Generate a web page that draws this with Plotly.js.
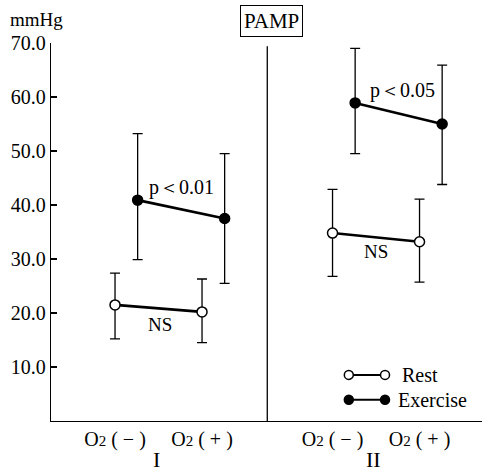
<!DOCTYPE html>
<html><head><meta charset="utf-8">
<script src="https://cdn.plot.ly/plotly-3.0.1.min.js"></script>
<style>body{margin:0;background:#fff}#chart{width:482px;height:471px}</style>
</head><body><div id="chart"></div>
<script>
// Categories (x positions on a category scale) and labels
const positions = [0, 1, 2.5, 3.5];
const tickLabels = ['O<span style="font-size:15px">2</span> ( − )', 'O<span style="font-size:15px">2</span> ( + )',
                    'O<span style="font-size:15px">2</span> ( − )', 'O<span style="font-size:15px">2</span> ( + )'];
const groupLabels = ['I', 'II'];
const groupCenters = [0.48, 2.97];
const divider = 1.75;
const exerciseOffset = 0.26;

// Series values (mmHg)
const restMean  = [21.5, 20.2, 34.8, 33.2];
const restUpper = [27.4, 26.3, 42.9, 41.1];
const restLower = [15.2, 14.5, 26.8, 25.7];
const exMean  = [40.9, 37.5, 58.9, 55.0];
const exUpper = [53.2, 49.5, 69.0, 65.9];
const exLower = [29.9, 25.5, 49.5, 43.8];

const yTicks = [10, 20, 30, 40, 50, 60, 70];
const sigLabels = ['p＜0.01', 'p＜0.05'];
const restLabels = ['NS', 'NS'];

const FONT = 'Liberation Serif, Times New Roman, serif';
const traces = [];
function addSeries(mean, upper, lower, offset, filled) {
  for (let g = 0; g < 2; g++) {
    const idx = [2*g, 2*g+1];
    traces.push({
      type: 'scatter', mode: 'lines+markers',
      x: idx.map(i => positions[i] + offset),
      y: idx.map(i => mean[i]),
      line: {color: '#000', width: 2.6},
      marker: {size: 10, color: filled ? '#000' : '#fff', line: {color: '#000', width: 1.5}},
      error_y: {type: 'data', symmetric: false,
        array: idx.map(i => upper[i] - mean[i]),
        arrayminus: idx.map(i => mean[i] - lower[i]),
        color: '#000', thickness: 1.3, width: 5},
      hoverinfo: 'skip', showlegend: false, cliponaxis: false
    });
  }
}
addSeries(restMean, restUpper, restLower, 0, false);
addSeries(exMean, exUpper, exLower, exerciseOffset, true);

const annotations = [
  {text: 'mmHg', xref: 'paper', yref: 'paper', x: -0.1, y: 1.063, xanchor: 'left', yanchor: 'middle', showarrow: false, font: {family: FONT, size: 19, color: '#000'}},
  {text: 'PAMP', xref: 'x', yref: 'paper', x: divider + 0.05, y: 1.058, xanchor: 'center', yanchor: 'middle', showarrow: false,
   font: {family: FONT, size: 21, color: '#000'}, bordercolor: '#000', borderwidth: 1, borderpad: 3, bgcolor: '#fff'},
  {text: sigLabels[0], xref: 'x', yref: 'y', x: positions[0] + 0.37, y: 43.2, xanchor: 'left', yanchor: 'middle', showarrow: false, font: {family: FONT, size: 20, color: '#000'}},
  {text: sigLabels[1], xref: 'x', yref: 'y', x: positions[2] + 0.41, y: 61.2, xanchor: 'left', yanchor: 'middle', showarrow: false, font: {family: FONT, size: 20, color: '#000'}},
  {text: restLabels[0], xref: 'x', yref: 'y', x: 0.52, y: 17.8, xanchor: 'center', yanchor: 'middle', showarrow: false, font: {family: FONT, size: 19, color: '#000'}},
  {text: restLabels[1], xref: 'x', yref: 'y', x: 3.0, y: 31.4, xanchor: 'center', yanchor: 'middle', showarrow: false, font: {family: FONT, size: 19, color: '#000'}},
  {text: groupLabels[0], xref: 'x', yref: 'paper', x: groupCenters[0], y: -0.103, xanchor: 'center', yanchor: 'middle', showarrow: false, font: {family: FONT, size: 22, color: '#000'}},
  {text: groupLabels[1], xref: 'x', yref: 'paper', x: groupCenters[1], y: -0.103, xanchor: 'center', yanchor: 'middle', showarrow: false, font: {family: FONT, size: 22, color: '#000'}},
  {text: 'Rest', xref: 'paper', yref: 'paper', x: 0.81, y: 0.122, xanchor: 'left', yanchor: 'middle', showarrow: false, font: {family: FONT, size: 20, color: '#000'}},
  {text: 'Exercise', xref: 'paper', yref: 'paper', x: 0.801, y: 0.056, xanchor: 'left', yanchor: 'middle', showarrow: false, font: {family: FONT, size: 20, color: '#000'}}
];

const legY = [0.122, 0.056];
const legX0 = 0.691, legX1 = 0.775;
const shapes = [
  {type: 'line', xref: 'x', yref: 'y', x0: divider, x1: divider, y0: 0, y1: 69.4, line: {color: '#000', width: 1.3}}
];
legY.forEach((yy, k) => {
  shapes.push({type: 'line', xref: 'paper', yref: 'paper', x0: legX0, x1: legX1, y0: yy, y1: yy, line: {color: '#000', width: 2}});
  [legX0, legX1].forEach(xx => shapes.push({type: 'circle', xref: 'paper', yref: 'paper', xsizemode: 'pixel', ysizemode: 'pixel',
    xanchor: xx, yanchor: yy, x0: -4.5, x1: 4.5, y0: -4.5, y1: 4.5,
    fillcolor: k === 0 ? '#fff' : '#000', line: {color: '#000', width: 1.5}}));
});

const layout = {
  width: 482, height: 471,
  margin: {l: 51, r: 0, t: 43, b: 50},
  paper_bgcolor: '#fff', plot_bgcolor: '#fff',
  showlegend: false,
  font: {family: FONT, color: '#000'},
  xaxis: {range: [-0.736, 4.218], showline: true, linecolor: '#000', linewidth: 1.3, showgrid: false, zeroline: false,
          tickvals: positions, ticktext: tickLabels, ticks: '', tickfont: {family: FONT, size: 20, color: '#000'}},
  yaxis: {range: [0, 70], showline: true, linecolor: '#000', linewidth: 1.3, showgrid: false, zeroline: false,
          tickvals: yTicks, ticktext: yTicks.map(v => v.toFixed(1)), ticks: 'inside', ticklen: 6, tickwidth: 1.3, tickcolor: '#000',
          tickfont: {family: FONT, size: 20, color: '#000'}},
  annotations: annotations,
  shapes: shapes
};
Plotly.newPlot('chart', traces, layout, {displayModeBar: false, staticPlot: true});
</script>
</body></html>
